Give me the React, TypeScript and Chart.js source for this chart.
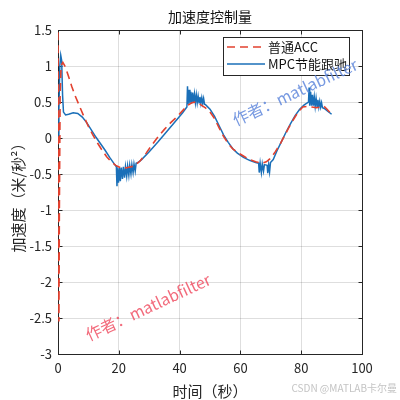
import React, { useEffect, useRef } from 'react';
import Chart from 'chart.js/auto';
import type { ChartConfiguration, Plugin } from 'chart.js/auto';

// 普通ACC (red dashed)
const accTime = [
  0, 0.15, 0.3, 0.45, 0.7, 1.0, 1.6, 2.5, 3.5, 4.5, 5.5, 7, 8.5, 10, 11.5, 13, 14.5, 16, 17.5, 19,
  21, 23, 25, 27, 29, 31, 33, 35, 37, 39, 41, 42.5, 44, 45.5, 47, 48.5, 50, 51.5, 53, 54.5,
  56, 57.5, 59, 61, 63, 65, 67, 68.5, 70, 71.5, 73, 74.5, 76, 77.5, 79, 80.5, 82, 83.5, 85, 86.5,
  87.5, 88.5, 90,
];
const accValue = [
  1.47, -0.5, -2.55, -1.0, 0.6, 1.0, 1.05, 0.98, 0.85, 0.72, 0.6, 0.45, 0.3, 0.16, 0.04, -0.07, -0.17, -0.26, -0.33, -0.38,
  -0.42, -0.41, -0.39, -0.32, -0.21, -0.09, 0.02, 0.12, 0.21, 0.29, 0.38, 0.45, 0.49, 0.5, 0.46, 0.42, 0.36, 0.27, 0.14, 0.02,
  -0.08, -0.15, -0.2, -0.25, -0.3, -0.33, -0.35, -0.33, -0.28, -0.19, -0.09, 0.03, 0.15, 0.26, 0.36, 0.43, 0.44, 0.43, 0.42, 0.43,
  0.44, 0.4, 0.33,
];

// MPC节能跟驰 (blue solid)
const mpcTime = [
  0, 0.3, 0.6, 0.9, 1.2, 1.5, 1.8, 2.5, 3.5, 5, 6.5, 8, 9.5, 11, 12.5, 14, 15.5, 17, 18.5, 19.2,
  19.4, 19.6, 19.9, 20.2, 20.5, 20.8, 21.2, 21.5, 21.9, 22.2, 22.6, 22.9, 23.3, 23.6, 24.0, 24.3, 24.7, 25.0, 25.4, 25.7,
  26.3, 27.5, 30, 33, 36, 39, 41, 42.4,
  42.6, 42.8, 43.1, 43.4, 43.7, 44.0, 44.3, 44.6, 44.9, 45.2, 45.5, 45.8, 46.1, 46.4, 46.7, 47.0, 47.3, 47.6, 47.9, 48.2, 48.6,
  50, 51.5, 53, 54.5, 56, 57.5, 59, 61, 63, 65,
  66.0, 66.2, 66.5, 66.9, 67.2, 67.6, 67.9, 68.8, 69.0, 69.3, 69.6, 69.9,
  70.8, 72, 73.5, 75, 76.5, 78, 79.5, 81, 82.4,
  82.6, 82.8, 83.1, 83.4, 83.7, 84.0, 84.3, 84.6, 84.9, 85.2, 85.5, 85.8, 86.1, 86.4, 86.7, 87.0, 87.6,
  88.5, 90,
];
const mpcValue = [
  0.0, 0.4, 1.0, 1.15, 1.08, 0.6, 0.36, 0.32, 0.33, 0.35, 0.34, 0.29, 0.21, 0.11, 0.01, -0.08, -0.17, -0.27, -0.36, -0.4,
  -0.67, -0.42, -0.62, -0.41, -0.6, -0.41, -0.57, -0.4, -0.55, -0.4, -0.53, -0.39, -0.52, -0.38, -0.5, -0.37, -0.48, -0.36, -0.46, -0.35,
  -0.34, -0.3, -0.19, -0.05, 0.1, 0.25, 0.35, 0.43,
  0.72, 0.47, 0.67, 0.48, 0.64, 0.48, 0.63, 0.49, 0.61, 0.49, 0.6, 0.49, 0.58, 0.49, 0.57, 0.48, 0.56, 0.48, 0.55, 0.47, 0.46,
  0.4, 0.3, 0.17, 0.04, -0.06, -0.15, -0.21, -0.27, -0.31, -0.34,
  -0.35, -0.48, -0.35, -0.48, -0.36, -0.46, -0.37, -0.38, -0.49, -0.37, -0.47, -0.34,
  -0.3, -0.18, -0.05, 0.08, 0.2, 0.31, 0.4, 0.46, 0.5,
  0.7, 0.45, 0.64, 0.45, 0.6, 0.45, 0.57, 0.44, 0.55, 0.44, 0.53, 0.43, 0.51, 0.43, 0.49, 0.42, 0.41,
  0.38, 0.33,
];

const CJK = '"Noto Sans CJK SC", "Noto Sans", sans-serif';
const INK = '#262626';
const RED = '#e2412f';
const BLUE = '#1a6fb8';

const toPoints = (t: number[], v: number[]) => t.map((x, i) => ({ x, y: v[i] }));

const decorations: Plugin<'line'> = {
  id: 'decorations',
  beforeDatasetsDraw(chart) {
    // axes box and inward ticks, under the lines
    const { ctx } = chart;
    const { left, right, top, bottom } = chart.chartArea;
    const xs = chart.scales.x;
    const ys = chart.scales.y;
    ctx.save();
    ctx.strokeStyle = INK;
    ctx.lineWidth = 1;
    const L = Math.round(left) + 0.5;
    const R = Math.round(right) + 0.5;
    const T = Math.round(top) + 0.5;
    const B = Math.round(bottom) + 0.5;
    ctx.strokeRect(L, T, R - L, B - T);
    ctx.beginPath();
    xs.ticks.forEach((t) => {
      const px = Math.round(xs.getPixelForValue(t.value)) + 0.5;
      ctx.moveTo(px, B);
      ctx.lineTo(px, B - 4);
      ctx.moveTo(px, T);
      ctx.lineTo(px, T + 4);
    });
    ys.ticks.forEach((t) => {
      const py = Math.round(ys.getPixelForValue(t.value)) + 0.5;
      ctx.moveTo(L, py);
      ctx.lineTo(L + 4, py);
      ctx.moveTo(R, py);
      ctx.lineTo(R - 4, py);
    });
    ctx.stroke();
    ctx.restore();
  },
  afterDatasetsDraw(chart) {
    const { ctx } = chart;
    ctx.save();

    // title and axis labels
    ctx.fillStyle = '#111';
    ctx.textAlign = 'center';
    ctx.textBaseline = 'middle';
    ctx.font = `14px ${CJK}`;
    ctx.fillText('加速度控制量', 210, 17);
    ctx.fillStyle = INK;
    ctx.font = `15px ${CJK}`;
    ctx.fillText('时间（秒）', 210, 391);
    ctx.save();
    ctx.translate(18, 194);
    ctx.rotate(-Math.PI / 2);
    ctx.fillText('加速度（米/秒²）', 0, 0);
    ctx.restore();

    // legend
    const lx = 223.5;
    const ly = 37.5;
    ctx.fillStyle = '#fff';
    ctx.fillRect(lx, ly, 126, 38);
    ctx.strokeStyle = INK;
    ctx.lineWidth = 1;
    ctx.strokeRect(lx, ly, 126, 38);
    ctx.font = `13px ${CJK}`;
    ctx.textAlign = 'left';
    chart.data.datasets.forEach((ds, i) => {
      const y = 47 + i * 17;
      ctx.strokeStyle = ds.borderColor as string;
      ctx.lineWidth = 1.5;
      ctx.setLineDash((ds as any).borderDash || []);
      ctx.beginPath();
      ctx.moveTo(227, y);
      ctx.lineTo(265, y);
      ctx.stroke();
      ctx.setLineDash([]);
      ctx.fillStyle = '#111';
      ctx.fillText(ds.label || '', 268, y);
    });

    // watermarks
    const mark = (x: number, y: number, color: string) => {
      ctx.save();
      ctx.translate(x, y);
      ctx.rotate((-25 * Math.PI) / 180);
      ctx.font = `16px ${CJK}`;
      ctx.textAlign = 'center';
      ctx.fillStyle = color;
      ctx.fillText('作者：matlabfilter', 0, 0);
      ctx.restore();
    };
    mark(295, 92, 'rgba(95,135,220,0.85)');
    mark(148, 307, 'rgba(240,80,100,0.85)');

    ctx.font = `10px ${CJK}`;
    ctx.textAlign = 'right';
    ctx.fillStyle = '#c4c4c4';
    ctx.fillText('CSDN @MATLAB卡尔曼', 397, 388);
    ctx.restore();
  },
};

const App: React.FC = () => {
  const canvasRef = useRef<HTMLCanvasElement>(null);
  const chartRef = useRef<Chart | null>(null);

  useEffect(() => {
    if (!canvasRef.current) return;
    if (chartRef.current) chartRef.current.destroy();

    const tickFont = { family: CJK, size: 13 };
    const config: ChartConfiguration<'line'> = {
      type: 'line',
      data: {
        datasets: [
          {
            label: '普通ACC',
            data: toPoints(accTime, accValue),
            borderColor: RED,
            borderWidth: 1.6,
            borderDash: [8, 5],
            pointRadius: 0,
            tension: 0,
          },
          {
            label: 'MPC节能跟驰',
            data: toPoints(mpcTime, mpcValue),
            borderColor: BLUE,
            borderWidth: 1.5,
            pointRadius: 0,
            tension: 0,
          },
        ],
      },
      options: {
        responsive: false,
        animation: false,
        devicePixelRatio: 1,
        layout: { padding: { left: 0, top: 30, right: 38, bottom: 0 } },
        plugins: { legend: { display: false }, tooltip: { enabled: false }, title: { display: false } },
        scales: {
          x: {
            type: 'linear',
            min: 0,
            max: 100,
            ticks: { stepSize: 20, font: tickFont, color: INK, padding: 6, maxRotation: 0 },
            grid: { color: 'rgba(0,0,0,0.13)', drawTicks: false },
            border: { display: false },
            afterFit: (s) => {
              s.height = 46;
            },
          },
          y: {
            type: 'linear',
            min: -3,
            max: 1.5,
            ticks: {
              stepSize: 0.5,
              font: tickFont,
              color: INK,
              padding: 6,
              callback: (v) => String(Math.round(Number(v) * 10) / 10),
            },
            grid: { color: 'rgba(0,0,0,0.13)', drawTicks: false },
            border: { display: false },
            afterFit: (s) => {
              s.width = 58;
            },
          },
        },
      },
      plugins: [decorations],
    };

    chartRef.current = new Chart(canvasRef.current, config);
    return () => {
      if (chartRef.current) {
        chartRef.current.destroy();
        chartRef.current = null;
      }
    };
  }, []);

  return (
    <div style={{ position: 'fixed', left: 0, top: 0, width: 400, height: 400, background: '#fff' }}>
      <canvas ref={canvasRef} width={400} height={400} />
    </div>
  );
};

export default App;
